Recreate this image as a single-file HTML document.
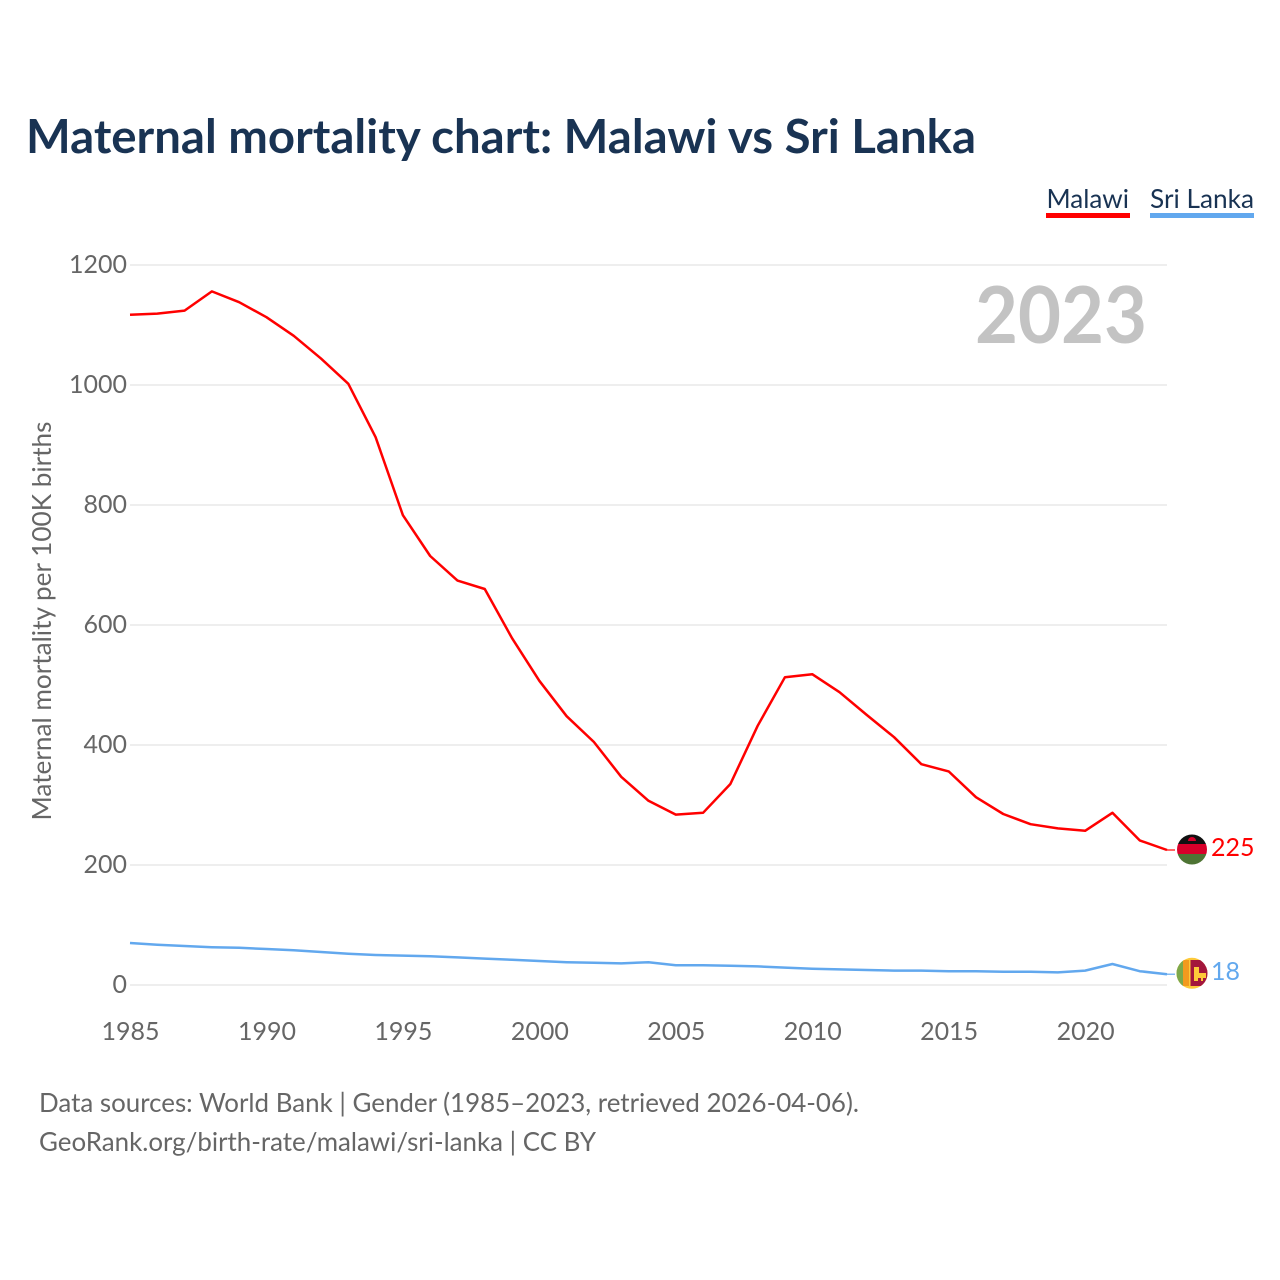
<!DOCTYPE html>
<html>
<head>
<meta charset="utf-8">
<style>
html,body{margin:0;padding:0;background:#fff;width:1280px;height:1280px;overflow:hidden}
svg{display:block}
text{font-family:"Lato","Carlito","Liberation Sans",sans-serif}
</style>
</head>
<body>
<svg id="chart" width="1280" height="1280" viewBox="0 0 1280 1280" xmlns="http://www.w3.org/2000/svg">
  <text x="26" y="153" font-size="47" font-weight="700" fill="#193353" textLength="950" lengthAdjust="spacingAndGlyphs">Maternal mortality chart: Malawi vs Sri Lanka</text>
  <g>
    <text x="1046.500" y="208" font-size="26" fill="#193353" textLength="82.500" lengthAdjust="spacingAndGlyphs">Malawi</text>
    <rect x="1046" y="213" width="84" height="5" fill="#ff0000"/>
  </g>
  <g>
    <text x="1150" y="208" font-size="26" fill="#193353" textLength="104" lengthAdjust="spacingAndGlyphs">Sri Lanka</text>
    <rect x="1150" y="213" width="104" height="5" fill="#62a8ee"/>
  </g>
  <g id="grid"></g>
  <g id="yticks"></g>
  <g id="xticks"></g>
  <text transform="translate(51,820.500) rotate(-90)" font-size="26" fill="#666" textLength="399" lengthAdjust="spacingAndGlyphs">Maternal mortality per 100K births</text>
  <text x="975" y="343" font-size="79" font-weight="700" fill="#c3c3c3" textLength="172" lengthAdjust="spacingAndGlyphs">2023</text>
  <g id="series"></g>
  <g>
    <clipPath id="clipM"><circle cx="1192" cy="849.500" r="15"/></clipPath>
    <g clip-path="url(#clipM)">
      <rect x="1177" y="834" width="30" height="10" fill="#111"/>
      <rect x="1177" y="844" width="30" height="10" fill="#d8002a"/>
      <rect x="1177" y="854" width="30" height="11" fill="#4e7434"/>
      <path d="M1188 841a4 4 0 0 1 8 0z" fill="#d8002a"/>
    </g>
  </g>
  <g>
    <clipPath id="clipS"><circle cx="1192" cy="973.300" r="15.500"/></clipPath>
    <g clip-path="url(#clipS)">
      <rect x="1176" y="957" width="32" height="32" fill="#fdc93a"/>
      <rect x="1176" y="960" width="7" height="26" fill="#7da84a"/>
      <rect x="1183" y="960" width="6" height="26" fill="#f39a1e"/>
      <rect x="1190.500" y="960" width="17" height="26" fill="#a3163c"/>
      <path d="M1194 967h5v6h7v5h-3v3h-2v-3h-3v3h-4z" fill="#fdc93a"/>
    </g>
  </g>
  <text x="1211" y="856" font-size="25" fill="#ff0000">225</text>
  <text x="1211" y="980" font-size="25" fill="#62a8ee">18</text>
  <text x="39" y="1112" font-size="26" fill="#666" textLength="820" lengthAdjust="spacingAndGlyphs">Data sources: World Bank | Gender (1985–2023, retrieved 2026-04-06).</text>
  <text x="39" y="1151" font-size="26" fill="#666" textLength="557" lengthAdjust="spacingAndGlyphs">GeoRank.org/birth-rate/malawi/sri-lanka | CC BY</text>
</svg>
<script>
var years = [1985,1986,1987,1988,1989,1990,1991,1992,1993,1994,1995,1996,1997,1998,1999,2000,2001,2002,2003,2004,2005,2006,2007,2008,2009,2010,2011,2012,2013,2014,2015,2016,2017,2018,2019,2020,2021,2022,2023];
var malawiValues = [1117,1119,1124,1156,1138,1113,1082,1044,1002,913,783,715,674,660,578,507,448,405,347,307,284,287,335,432,513,518,488,450,413,368,356,313,285,268,261,257,287,241,225];
var sriLankaValues = [70,67,65,63,62,60,58,55,52,50,49,48,46,44,42,40,38,37,36,38,33,33,32,31,29,27,26,25,24,24,23,23,22,22,21,24,35,23,18];
var yTickValues = [0,200,400,600,800,1000,1200];
var xTickValues = [1985,1990,1995,2000,2005,2010,2015,2020];

var NS = 'http://www.w3.org/2000/svg';
function xScale(year){ return 130 + (year - 1985) * (1167 - 130) / (2023 - 1985); }
function yScale(value){ return 985 - value * 0.6; }
function make(tag, parentId){
  var el = document.createElementNS(NS, tag);
  document.getElementById(parentId).appendChild(el);
  return el;
}
yTickValues.forEach(function(v){
  var line = make('line', 'grid');
  
  
  line.setAttribute('x1', 130);
  line.setAttribute('x2', 1167);
  line.setAttribute('y1', yScale(v));
  line.setAttribute('y2', yScale(v));
  line.setAttribute('stroke', '#eeeeee');
  line.setAttribute('stroke-width', 2);
  var label = make('text', 'yticks');
  
  
  label.setAttribute('x', 127);
  label.setAttribute('y', yScale(v) + 8);
  label.setAttribute('text-anchor', 'end');
  label.setAttribute('font-size', 25);
  label.setAttribute('fill', '#666');
  label.textContent = v;
});
xTickValues.forEach(function(v){
  var label = make('text', 'xticks');
  
  
  label.setAttribute('x', xScale(v) + 0.5);
  label.setAttribute('y', 1040);
  label.setAttribute('text-anchor', 'middle');
  label.setAttribute('font-size', 25);
  label.setAttribute('fill', '#666');
  label.textContent = v;
});
function drawSeries(values, color, name){
  var points = values.map(function(v, i){
    return xScale(years[i]).toFixed(2) + ',' + yScale(v).toFixed(2);
  });
  var last = values[values.length - 1];
  var line = make('polyline', 'series');
  
  
  line.setAttribute('points', points.join(' '));
  line.setAttribute('fill', 'none');
  line.setAttribute('stroke', color);
  line.setAttribute('stroke-width', 2.5);
  line.setAttribute('stroke-linejoin', 'round');
  var lead = make('line', 'series');
  
  
  lead.setAttribute('x1', xScale(2023));
  lead.setAttribute('x2', 1175);
  lead.setAttribute('y1', yScale(last));
  lead.setAttribute('y2', yScale(last));
  lead.setAttribute('stroke', color);
  lead.setAttribute('stroke-width', 1.200);
}
drawSeries(malawiValues, '#ff0000', 'line-malawi');
drawSeries(sriLankaValues, '#62a8ee', 'line-sri-lanka');
</script>
</body>
</html>
